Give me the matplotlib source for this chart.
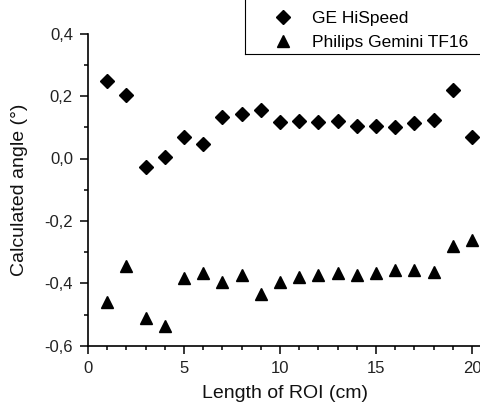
import matplotlib
matplotlib.use('Agg')
import matplotlib.pyplot as plt
from matplotlib.lines import Line2D
from matplotlib.ticker import FuncFormatter, MultipleLocator

plt.rcParams['font.family'] = ['Liberation Sans', 'DejaVu Sans']
plt.rcParams['axes.unicode_minus'] = False

# ROI length (cm)
roi_length = [1, 2, 3, 4, 5, 6, 7, 8, 9, 10, 11, 12, 13, 14, 15, 16, 17, 18, 19, 20]
# calculated angle (deg)
ge_hispeed = [0.250, 0.204, -0.026, 0.004, 0.070, 0.048, 0.134, 0.143, 0.155, 0.118,
              0.121, 0.116, 0.121, 0.104, 0.104, 0.101, 0.115, 0.123, 0.219, 0.069]
philips_tf16 = [-0.459, -0.343, -0.510, -0.537, -0.382, -0.367, -0.395, -0.374, -0.433, -0.396,
                -0.380, -0.374, -0.368, -0.374, -0.368, -0.356, -0.357, -0.365, -0.281, -0.261]

W, H = 481, 408
fig = plt.figure(figsize=(W / 100, H / 100), dpi=100)
ax = fig.add_axes([88 / W, 1 - 345.7 / H, (W - 88) / W, (345.7 - 33.7) / H])

ax.plot(roi_length, ge_hispeed, 'D', color='black', ms=7, ls='none', label='GE HiSpeed')
ax.plot(roi_length, philips_tf16, '^', color='black', ms=8.5, ls='none', label='Philips Gemini TF16')

ax.set_xlim(0, 20.47)
ax.set_ylim(-0.6, 0.4)
ax.xaxis.set_major_locator(MultipleLocator(5))
ax.xaxis.set_minor_locator(MultipleLocator(1))
ax.yaxis.set_major_locator(MultipleLocator(0.2))
ax.yaxis.set_minor_locator(MultipleLocator(0.1))
ax.yaxis.set_major_formatter(FuncFormatter(lambda v, p: f'{v:.1f}'.replace('.', ',')))

for side in ['top', 'right']:
    ax.spines[side].set_visible(False)
for side in ['left', 'bottom']:
    ax.spines[side].set_linewidth(1.2)
ax.tick_params(which='major', direction='out', length=5.8, width=1.1, labelsize=12, pad=5,
               labelcolor='#222222')
ax.tick_params(which='minor', direction='out', length=3, width=1.1)

ax.set_xlabel('Length of ROI (cm)', fontsize=14, color='#111111')
ax.set_ylabel('Calculated angle (°)', fontsize=14, color='#111111')
ax.xaxis.set_label_coords(0.5, (345.7 - 385) / 312)
ax.yaxis.set_label_coords((28 - 88) / 393, 0.5)

fig.legend(loc='upper left', bbox_to_anchor=(265.6 / W, 1 - 11 / H), frameon=False,
           fontsize=12.5, borderpad=0, borderaxespad=0, handlelength=2, handletextpad=0.67,
           labelspacing=0.52)

# partial legend frame (cut off by the figure edge)
fig.add_artist(Line2D([245 / W, 245 / W], [1, 1 - 54 / H], color='black', lw=0.8))
fig.add_artist(Line2D([245 / W, 1], [1 - 54 / H, 1 - 54 / H], color='black', lw=0.8))

fig.savefig('out.png', dpi=100, facecolor='white')
